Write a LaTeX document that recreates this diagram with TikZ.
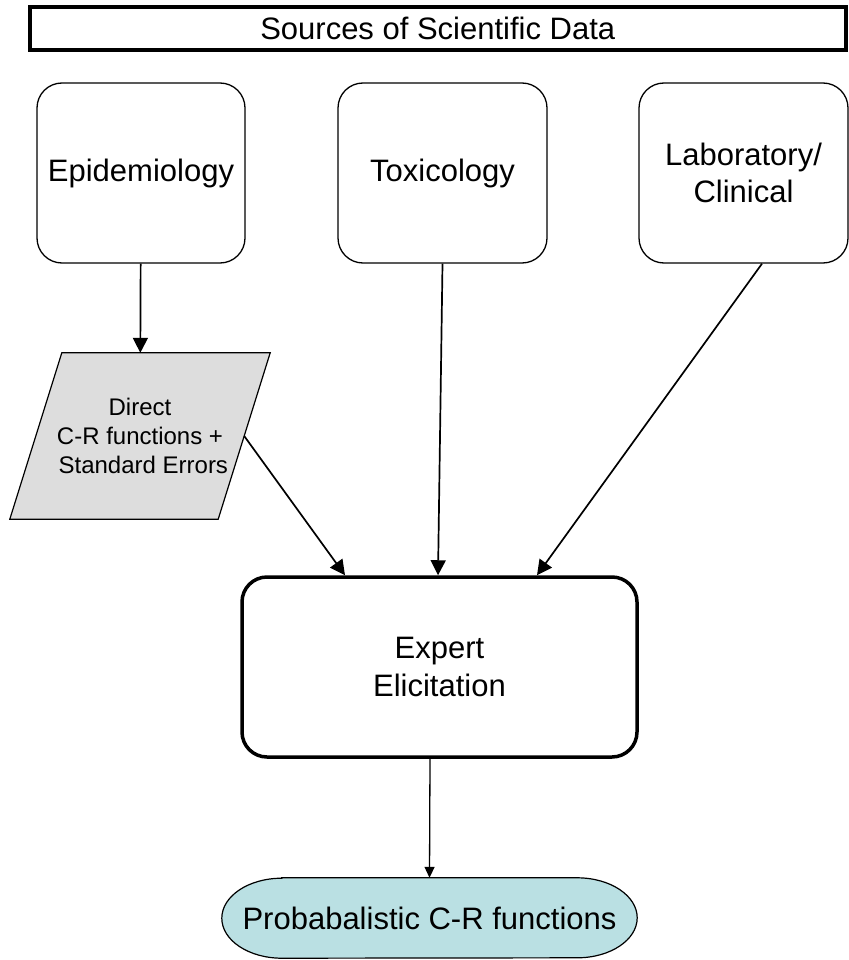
\documentclass[tikz,border=0pt]{standalone}
\usepackage{fontspec}
\setmainfont{Liberation Sans}
\usetikzlibrary{arrows.meta,backgrounds}
\definecolor{parafill}{HTML}{DDDDDD}
\definecolor{probfill}{HTML}{BAE0E3}
\tikzset{
  titlebox/.style={draw, line width=4pt, minimum width=816.5pt, minimum height=43pt, inner sep=0pt,
    font=\fontsize{31}{37}\selectfont},
  srcbox/.style={draw, line width=1.3pt, rounded corners=25pt, minimum width=208pt, minimum height=180pt,
    inner sep=0pt, align=center, font=\fontsize{31}{37}\selectfont},
  parabox/.style={minimum width=208pt, minimum height=166pt, inner sep=0pt, align=center,
    font=\fontsize{24}{29}\selectfont},
  expertbox/.style={draw, line width=3.5pt, rounded corners=25pt, minimum width=395pt, minimum height=180pt,
    inner sep=0pt, align=center, font=\fontsize{31}{38}\selectfont},
  probbox/.style={minimum width=415pt, minimum height=80pt, inner sep=0pt, font=\fontsize{31}{37}\selectfont},
  arr/.style={line width=1.7pt, -{Triangle[length=15pt,width=15pt]}},
  arrsmall/.style={line width=1.3pt, -{Triangle[length=11pt,width=10pt]}},
}
\begin{document}
\begin{tikzpicture}[x=1pt,y=-1pt]
\useasboundingbox (0,0) rectangle (848,960);
\node[titlebox] (title) at (437.75,28.5) {Sources of Scientific Data};
\node[srcbox] (epi) at (141,173) {Epidemiology};
\node[srcbox, minimum width=209pt] (tox) at (442.5,173) {Toxicology};
\node[srcbox, minimum width=209pt] (lab) at (743.5,173) {Laboratory/\\Clinical};
\node[parabox] (para) at (140,436) {Direct\\C-R functions +\\\ Standard Errors};
\node[expertbox] (expert) at (439.5,667) {Expert\\ Elicitation};
\node[probbox] (prob) at (429.5,918) {Probabalistic C-R functions};
\begin{scope}[on background layer]
  \draw[fill=parafill, line width=1.2pt]
    ([xshift=26pt]para.north west) -- ([xshift=26pt]para.north east)
    -- ([xshift=-26pt]para.south east) -- ([xshift=-26pt]para.south west) -- cycle;
  \draw[fill=probfill, line width=1.2pt]
    ([xshift=60pt]prob.north west) -- ([xshift=-60pt]prob.north east)
    arc[start angle=90, end angle=-90, x radius=60pt, y radius=40pt]
    -- ([xshift=60pt]prob.south west)
    arc[start angle=270, end angle=90, x radius=60pt, y radius=40pt] -- cycle;
\end{scope}
\draw[arr] (epi) -- (para);
\draw[arr] (para.east) -- ([xshift=-94.5pt]expert.north);
\draw[arr] (tox.south) -- ([xshift=-1.5pt]expert.north);
\draw[arr] ([xshift=18.5pt]lab.south) -- ([xshift=97.5pt]expert.north);
\draw[arrsmall] ([xshift=-9.5pt]expert.south) -- (prob.north);
\end{tikzpicture}
\end{document}
